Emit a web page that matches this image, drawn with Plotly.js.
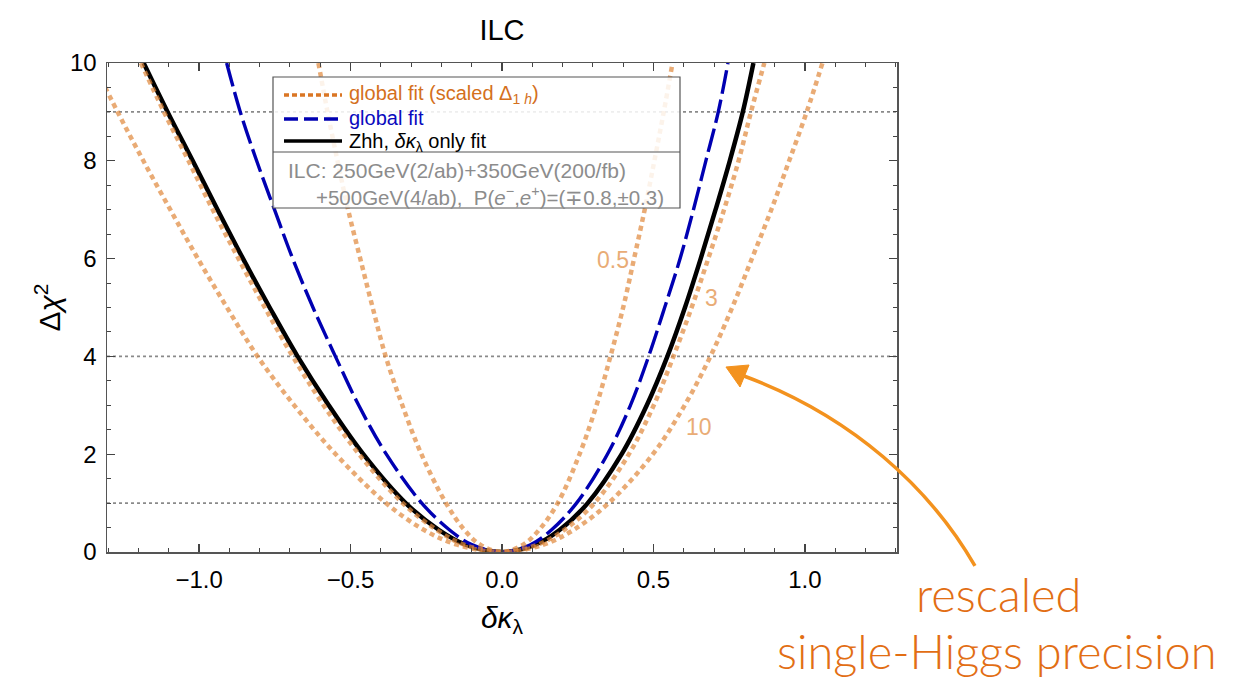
<!DOCTYPE html>
<html>
<head>
<meta charset="utf-8">
<script src="https://cdn.plot.ly/plotly-3.0.1.min.js"></script>
<style>
  html, body { margin: 0; padding: 0; background: #fff; }
  #chart { width: 1246px; height: 679px; }
</style>
</head>
<body>
<div id="chart"></div>
<script>
// Δχ² profiles versus δκ_λ for the ILC run scenario.

// Δχ² levels at which each profile is sampled (left branch top→bottom, then right branch bottom→top)
const chi2Steps = [10, 9, 8, 7, 6, 5, 4, 3, 2, 1, 0.45, 0.15, 0, 0.15, 0.45, 1, 2, 3, 4, 5, 6, 7, 8, 9, 10];

// Zhh, δκ_λ-only fit
const zhhX = [-1.183, -1.104, -1.021, -0.939, -0.855, -0.767, -0.675, -0.572, -0.458, -0.318, -0.208, -0.12, 0.0,
              0.11, 0.190, 0.283, 0.395, 0.478, 0.546, 0.604, 0.656, 0.705, 0.752, 0.795, 0.830];
const zhhY = chi2Steps;

// global fit
const globalX = [-0.909, -0.864, -0.810, -0.751, -0.691, -0.624, -0.550, -0.473, -0.382, -0.265, -0.173, -0.10, 0.0,
                 0.094, 0.163, 0.246, 0.348, 0.424, 0.484, 0.537, 0.588, 0.632, 0.673, 0.714, 0.746];
const globalY = chi2Steps;

// global fit, single-Higgs precision scaled by 0.5
const scaled05X = [-0.606, -0.576, -0.543, -0.508, -0.468, -0.427, -0.384, -0.329, -0.266, -0.185, -0.124, -0.072, 0.0,
                   0.070, 0.122, 0.184, 0.256, 0.312, 0.358, 0.400, 0.436, 0.471, 0.503, 0.534, 0.563];
const scaled05Y = chi2Steps;

// scaled by 3
const scaled3X = [-1.192, -1.116, -1.035, -0.955, -0.870, -0.783, -0.691, -0.589, -0.472, -0.328, -0.215, -0.125, 0.0,
                  0.118, 0.205, 0.305, 0.419, 0.501, 0.566, 0.626, 0.681, 0.733, 0.781, 0.822, 0.866];
const scaled3Y = chi2Steps;

// scaled by 10
const scaled10X = [-1.350, -1.269, -1.184, -1.095, -1.004, -0.908, -0.807, -0.686, -0.549, -0.383, -0.257, -0.148, 0.0,
                   0.137, 0.236, 0.352, 0.498, 0.603, 0.688, 0.760, 0.825, 0.889, 0.948, 1.006, 1.058];
const scaled10Y = chi2Steps;

// scale factor labels and where they sit
const scaleLabels = ['0.5', '3', '10'];
const scaleLabelX = [0.365, 0.691, 0.649];
const scaleLabelY = [5.97, 5.19, 2.56];

// reference Δχ² levels
const chi2Levels = [1, 4, 9];

// ticks
const xTickVals = [-1.0, -0.5, 0.0, 0.5, 1.0];
const xTickText = ['\u22121.0', '\u22120.5', '0.0', '0.5', '1.0'];
const yTickVals = [0, 2, 4, 6, 8, 10];
const yTickText = ['0', '2', '4', '6', '8', '10'];

// ---- styling ----
const W = 1246, H = 679;
const M = { l: 107, r: 349, t: 63, b: 127 };
const plotW = W - M.l - M.r, plotH = H - M.t - M.b;
// page pixel -> paper fraction (for decorations around the frame)
const px = v => (v - M.l) / plotW;
const py = v => (H - M.b - v) / plotH;

const FONT = 'Liberation Sans, Arial, sans-serif';
const orangeCurve = 'rgba(224,136,59,0.7)';
const orangeLabel = 'rgb(233,172,118)';
const orangeLegend = 'rgb(218,118,36)';
const blue = 'rgb(0,0,178)';

const dotted = '5px,4px';
const spline = { shape: 'spline', smoothing: 1 };

const traces = [
  { x: zhhX, y: zhhY, mode: 'lines', name: 'Zhh, δκ_λ only fit',
    line: Object.assign({ color: '#000', width: 4.5 }, spline), hoverinfo: 'skip' },
  { x: globalX, y: globalY, mode: 'lines', name: 'global fit',
    line: Object.assign({ color: blue, width: 3.4, dash: '24px,6px' }, spline), hoverinfo: 'skip' },
  { x: scaled05X, y: scaled05Y, mode: 'lines', name: '0.5',
    line: Object.assign({ color: orangeCurve, width: 4.5, dash: dotted }, spline), hoverinfo: 'skip' },
  { x: scaled3X, y: scaled3Y, mode: 'lines', name: '3',
    line: Object.assign({ color: orangeCurve, width: 4.5, dash: dotted }, spline), hoverinfo: 'skip' },
  { x: scaled10X, y: scaled10Y, mode: 'lines', name: '10',
    line: Object.assign({ color: orangeCurve, width: 4.5, dash: dotted }, spline), hoverinfo: 'skip' }
];

const shapes = [];
chi2Levels.forEach(v => shapes.push({
  type: 'line', xref: 'paper', x0: 0, x1: 1, yref: 'y', y0: v, y1: v,
  line: { color: '#8a8a8a', width: 1.6, dash: '3px,3px' }, layer: 'below'
}));

// legend frame
shapes.push({ type: 'rect', xref: 'paper', yref: 'paper',
  x0: px(273), x1: px(680), y0: py(208), y1: py(77),
  fillcolor: 'rgba(255,255,255,0.85)', line: { color: '#555', width: 1.2 }, layer: 'above' });
shapes.push({ type: 'line', xref: 'paper', yref: 'paper',
  x0: px(273), x1: px(680), y0: py(152), y1: py(152),
  line: { color: '#555', width: 1.2 }, layer: 'above' });
// legend samples
shapes.push({ type: 'line', xref: 'paper', yref: 'paper', x0: px(284), x1: px(342), y0: py(95), y1: py(95),
  line: { color: orangeLegend, width: 3.5, dash: '5px,3px' }, layer: 'above' });
shapes.push({ type: 'line', xref: 'paper', yref: 'paper', x0: px(284), x1: px(342), y0: py(119), y1: py(119),
  line: { color: blue, width: 3.5, dash: '14px,6px' }, layer: 'above' });
shapes.push({ type: 'line', xref: 'paper', yref: 'paper', x0: px(284), x1: px(342), y0: py(141), y1: py(141),
  line: { color: '#000', width: 3.5 }, layer: 'above' });

// curved pointer
const arrowColor = 'rgb(243,146,30)';
const pt = (a, b) => px(a).toFixed(4) + ',' + py(b).toFixed(4);
shapes.push({ type: 'path', xref: 'paper', yref: 'paper',
  path: 'M' + pt(975, 566) + ' C' + pt(930, 488) + ' ' + pt(852, 416) + ' ' + pt(744, 376),
  line: { color: arrowColor, width: 3.5 }, layer: 'above' });
shapes.push({ type: 'path', xref: 'paper', yref: 'paper',
  path: 'M' + pt(726, 367) + ' L' + pt(749, 365) + ' L' + pt(740, 387) + ' Z',
  fillcolor: arrowColor, line: { color: arrowColor, width: 1 }, layer: 'above' });

const annotations = [];
// legend text
const legText = (t, x, y, color, size) => annotations.push({
  xref: 'paper', yref: 'paper', x: px(x), y: py(y), xanchor: 'left', yanchor: 'middle',
  text: t, showarrow: false, font: { family: FONT, size: size, color: color }
});
legText('global fit (scaled Δ<sub>1 <i>h</i></sub>)', 347, 94, 'rgb(212,112,28)', 20);
legText('global fit', 347, 118, 'rgb(10,10,190)', 20);
legText('Zhh, <i>δκ</i><sub>λ</sub> only fit', 347, 142, '#000', 20);
legText('ILC: 250GeV(2/ab)+350GeV(200/fb)', 286, 170, '#8c8c8c', 21);
legText('+500GeV(4/ab),  P(<i>e</i><sup>−</sup>,<i>e</i><sup>+</sup>)=(∓0.8,±0.3)', 314, 196, '#8c8c8c', 20.5);

// scale-factor labels on the orange curves
scaleLabels.forEach((t, i) => annotations.push({
  xref: 'x', yref: 'y', x: scaleLabelX[i], y: scaleLabelY[i], text: t, showarrow: false,
  font: { family: FONT, size: 23, color: orangeLabel }
}));

// side note
annotations.push({ xref: 'paper', yref: 'paper', x: px(999), y: py(594), text: 'rescaled',
  showarrow: false, xanchor: 'center', yanchor: 'middle',
  font: { family: 'Lato, sans-serif', size: 47, color: 'rgb(226,110,20)', weight: 300 } });
annotations.push({ xref: 'paper', yref: 'paper', x: px(997), y: py(651), text: 'single-Higgs precision',
  showarrow: false, xanchor: 'center', yanchor: 'middle',
  font: { family: 'Lato, sans-serif', size: 47, color: 'rgb(226,110,20)', weight: 300 } });

const axisCommon = {
  showline: true, linecolor: '#555', linewidth: 1.5, mirror: 'ticks',
  ticks: 'inside', ticklen: 8, tickwidth: 1.2, tickcolor: '#444',
  showgrid: false, zeroline: false,
  tickfont: { family: FONT, size: 24, color: '#000' }
};

const layout = {
  width: W, height: H, margin: M,
  paper_bgcolor: '#fff', plot_bgcolor: '#fff',
  showlegend: false,
  title: { text: 'ILC', xref: 'container', x: 502 / W, xanchor: 'center', yref: 'container', y: 1 - 30 / H, yanchor: 'middle',
    font: { family: FONT, size: 29, color: '#000' } },
  xaxis: Object.assign({}, axisCommon, {
    range: [-1.304, 1.304], tickmode: 'array', tickvals: xTickVals, ticktext: xTickText,
    minor: { ticks: 'inside', ticklen: 4, dtick: 0.1, tick0: 0, tickcolor: '#444', tickwidth: 1 },
    ticklabelstandoff: 6,
    title: { text: '<i>δκ</i><sub>λ</sub>', standoff: 14, font: { family: FONT, size: 30, color: '#000' } }
  }),
  yaxis: Object.assign({}, axisCommon, {
    range: [0, 10], tickmode: 'array', tickvals: yTickVals, ticktext: yTickText,
    minor: { ticks: 'inside', ticklen: 4, dtick: 0.5, tick0: 0, tickcolor: '#444', tickwidth: 1 },
    ticklabelstandoff: 4,
    title: { text: 'Δ<i>χ</i><sup>2</sup>', standoff: 0, font: { family: FONT, size: 30, color: '#000' } }
  }),
  shapes: shapes,
  annotations: annotations
};

Plotly.newPlot('chart', traces, layout, { staticPlot: true, displayModeBar: false });
</script>
</body>
</html>
